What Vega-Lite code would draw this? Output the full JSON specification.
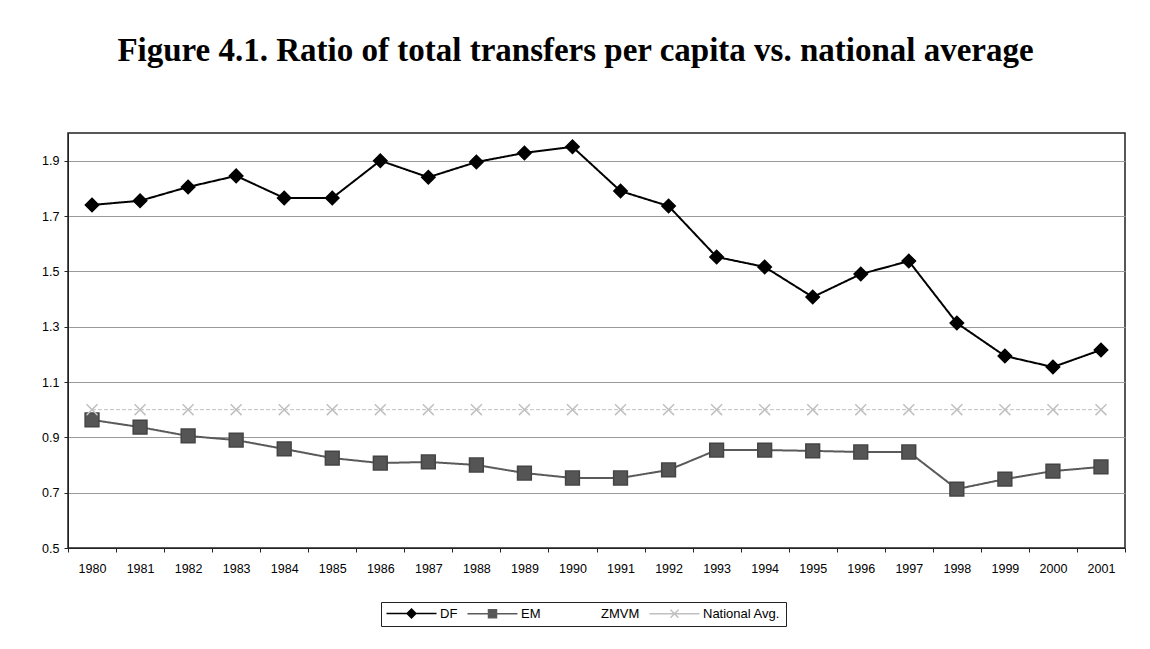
{
  "$schema": "https://vega.github.io/schema/vega-lite/v6.json",
  "autosize": "none",
  "width": 1057,
  "height": 415,
  "padding": {"left": 68, "top": 133, "right": 25, "bottom": 101},
  "background": "#ffffff",
  "title": {
    "text": "Figure 4.1. Ratio of total transfers per capita vs. national average",
    "font": "Liberation Serif",
    "fontSize": 33,
    "fontWeight": "bold",
    "color": "#000000",
    "anchor": "middle",
    "dx": -21,
    "offset": 39,
    "baseline": "alphabetic"
  },
  "config": {
    "view": {"stroke": "#222222", "strokeWidth": 1.5},
    "axis": {
      "labelFont": "Liberation Sans",
      "labelFontSize": 12.5,
      "labelColor": "#000000",
      "domainColor": "#222222",
      "tickColor": "#222222",
      "tickSize": 4,
      "title": null
    },
    "legend": {"labelFont": "Liberation Sans", "labelFontSize": 13, "labelColor": "#000000"}
  },
  "data": {
    "values": [
      {"year": "1980", "series": "DF", "value": 1.74},
      {"year": "1981", "series": "DF", "value": 1.755},
      {"year": "1982", "series": "DF", "value": 1.805},
      {"year": "1983", "series": "DF", "value": 1.845},
      {"year": "1984", "series": "DF", "value": 1.765},
      {"year": "1985", "series": "DF", "value": 1.765},
      {"year": "1986", "series": "DF", "value": 1.9},
      {"year": "1987", "series": "DF", "value": 1.84},
      {"year": "1988", "series": "DF", "value": 1.895},
      {"year": "1989", "series": "DF", "value": 1.928},
      {"year": "1990", "series": "DF", "value": 1.95},
      {"year": "1991", "series": "DF", "value": 1.79},
      {"year": "1992", "series": "DF", "value": 1.736},
      {"year": "1993", "series": "DF", "value": 1.552},
      {"year": "1994", "series": "DF", "value": 1.516},
      {"year": "1995", "series": "DF", "value": 1.407},
      {"year": "1996", "series": "DF", "value": 1.49},
      {"year": "1997", "series": "DF", "value": 1.537},
      {"year": "1998", "series": "DF", "value": 1.313},
      {"year": "1999", "series": "DF", "value": 1.194},
      {"year": "2000", "series": "DF", "value": 1.154},
      {"year": "2001", "series": "DF", "value": 1.216},
      {"year": "1980", "series": "EM", "value": 0.963},
      {"year": "1981", "series": "EM", "value": 0.937},
      {"year": "1982", "series": "EM", "value": 0.905},
      {"year": "1983", "series": "EM", "value": 0.89},
      {"year": "1984", "series": "EM", "value": 0.858},
      {"year": "1985", "series": "EM", "value": 0.825},
      {"year": "1986", "series": "EM", "value": 0.807},
      {"year": "1987", "series": "EM", "value": 0.811},
      {"year": "1988", "series": "EM", "value": 0.8},
      {"year": "1989", "series": "EM", "value": 0.771},
      {"year": "1990", "series": "EM", "value": 0.753},
      {"year": "1991", "series": "EM", "value": 0.753},
      {"year": "1992", "series": "EM", "value": 0.782},
      {"year": "1993", "series": "EM", "value": 0.854},
      {"year": "1994", "series": "EM", "value": 0.854},
      {"year": "1995", "series": "EM", "value": 0.851},
      {"year": "1996", "series": "EM", "value": 0.847},
      {"year": "1997", "series": "EM", "value": 0.847},
      {"year": "1998", "series": "EM", "value": 0.713},
      {"year": "1999", "series": "EM", "value": 0.749},
      {"year": "2000", "series": "EM", "value": 0.778},
      {"year": "2001", "series": "EM", "value": 0.793},
      {"year": "1980", "series": "National Avg.", "value": 1.0},
      {"year": "1981", "series": "National Avg.", "value": 1.0},
      {"year": "1982", "series": "National Avg.", "value": 1.0},
      {"year": "1983", "series": "National Avg.", "value": 1.0},
      {"year": "1984", "series": "National Avg.", "value": 1.0},
      {"year": "1985", "series": "National Avg.", "value": 1.0},
      {"year": "1986", "series": "National Avg.", "value": 1.0},
      {"year": "1987", "series": "National Avg.", "value": 1.0},
      {"year": "1988", "series": "National Avg.", "value": 1.0},
      {"year": "1989", "series": "National Avg.", "value": 1.0},
      {"year": "1990", "series": "National Avg.", "value": 1.0},
      {"year": "1991", "series": "National Avg.", "value": 1.0},
      {"year": "1992", "series": "National Avg.", "value": 1.0},
      {"year": "1993", "series": "National Avg.", "value": 1.0},
      {"year": "1994", "series": "National Avg.", "value": 1.0},
      {"year": "1995", "series": "National Avg.", "value": 1.0},
      {"year": "1996", "series": "National Avg.", "value": 1.0},
      {"year": "1997", "series": "National Avg.", "value": 1.0},
      {"year": "1998", "series": "National Avg.", "value": 1.0},
      {"year": "1999", "series": "National Avg.", "value": 1.0},
      {"year": "2000", "series": "National Avg.", "value": 1.0},
      {"year": "2001", "series": "National Avg.", "value": 1.0}
    ]
  },
  "encoding": {
    "x": {
      "field": "year",
      "type": "ordinal",
      "scale": {"type": "band", "paddingInner": 0, "paddingOuter": 0},
      "axis": {"labelAngle": 0, "tickBand": "extent", "labelPadding": 10, "grid": false}
    },
    "y": {
      "field": "value",
      "type": "quantitative",
      "scale": {"domain": [0.5, 2.0], "nice": false, "zero": false},
      "axis": {
        "values": [0.5, 0.7, 0.9, 1.1, 1.3, 1.5, 1.7, 1.9],
        "format": ".1f",
        "grid": true,
        "gridColor": "#9a9a9a",
        "gridWidth": 1,
        "labelPadding": 5
      }
    }
  },
  "layer": [
    {
      "mark": {"type": "line"},
      "encoding": {
        "color": {
          "field": "series",
          "type": "nominal",
          "scale": {
            "domain": ["DF", "EM", "ZMVM", "National Avg."],
            "range": ["#000000", "#5a5a5a", "#ffffff", "#c0c0c0"]
          },
          "legend": {
            "title": null,
            "orient": "none",
            "direction": "horizontal",
            "legendX": 313,
            "legendY": 469,
            "strokeColor": "#222222",
            "fillColor": "#ffffff",
            "padding": 5,
            "columnPadding": 6,
            "symbolSize": 64,
            "symbolStrokeWidth": 1.5,
            "symbolOffset": 19,
            "labelOffset": 22,
            "encode": {
              "symbols": {
                "update": {
                  "shape": {"signal": "datum.value === 'DF' ? 'M-6.25,0H6.25M0,-1.1L1.1,0L0,1.1L-1.1,0Z' : datum.value === 'EM' ? 'M-6.25,0H6.25M-1,-1H1V1H-1Z' : datum.value === 'ZMVM' ? 'M0,0' : 'M-6.25,0H6.25M-1,-1L1,1M1,-1L-1,1'"},
                  "fill": {"signal": "datum.value === 'DF' ? '#000000' : datum.value === 'EM' ? '#555555' : 'transparent'"},
                  "stroke": {"signal": "datum.value === 'DF' ? '#000000' : datum.value === 'EM' ? '#555555' : datum.value === 'ZMVM' ? 'transparent' : '#c0c0c0'"},
                  "strokeWidth": {"value": 1.5},
                  "size": {"value": 64},
                  "opacity": {"value": 1}
                }
              }
            }
          }
        },
        "strokeWidth": {"condition": {"test": "datum.series === 'National Avg.'", "value": 1}, "value": 2},
        "strokeDash": {"condition": {"test": "datum.series === 'National Avg.'", "value": [4, 2]}, "value": [1, 0]}
      }
    },
    {
      "mark": {"type": "point", "opacity": 1, "strokeWidth": 1.5},
      "encoding": {
        "shape": {
          "condition": [
            {"test": "datum.series === 'DF'", "value": "diamond"},
            {"test": "datum.series === 'EM'", "value": "square"}
          ],
          "value": "M-1,-1L1,1M1,-1L-1,1"
        },
        "fill": {
          "condition": [
            {"test": "datum.series === 'DF'", "value": "#000000"},
            {"test": "datum.series === 'EM'", "value": "#555555"}
          ],
          "value": "transparent"
        },
        "stroke": {
          "condition": [
            {"test": "datum.series === 'DF'", "value": "#000000"},
            {"test": "datum.series === 'EM'", "value": "#444444"}
          ],
          "value": "#c0c0c0"
        },
        "size": {
          "condition": [
            {"test": "datum.series === 'DF'", "value": 180},
            {"test": "datum.series === 'EM'", "value": 190}
          ],
          "value": 120
        }
      }
    }
  ]
}
